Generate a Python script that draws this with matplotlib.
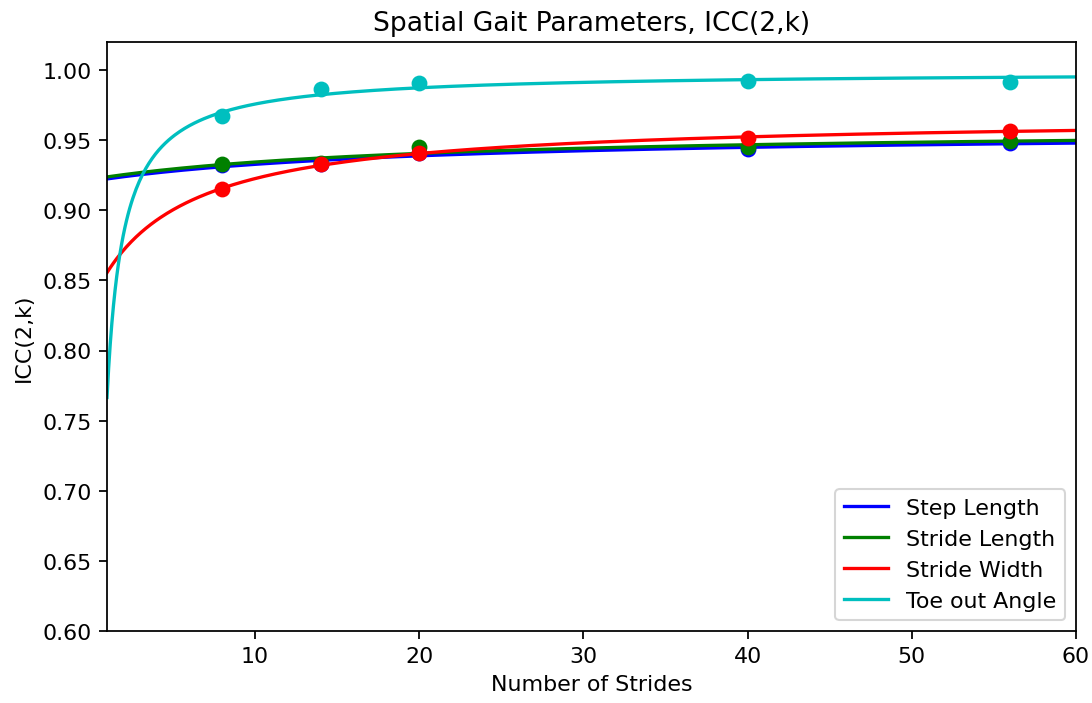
import numpy as np
import matplotlib.pyplot as plt


# =========================
# DADOS
# =========================
strides = np.array([8, 14, 20, 40, 56])

step_length = np.array([0.932, 0.933, 0.941, 0.944, 0.948])
stride_length = np.array([0.933, 0.934, 0.945, 0.945, 0.9497])
stride_width = np.array([0.915, 0.933, 0.941, 0.9516, 0.9563])
toe_out_angle = np.array([0.967, 0.9866, 0.9905, 0.992, 0.9917])

labels = ["Step Length", "Stride Length", "Stride Width", "Toe out Angle"]
cores = ["b", "g", "r", "c"]

# deslocamento b da curva y = L - C / (x + b) de cada série
curva_b = [20, 20, 5, 0]


# =========================
# AJUSTE (mínimos quadrados em L e C)
# =========================
def ajuste(x, y, b):
    g = 1.0 / (x + b)
    A = np.column_stack([np.ones_like(g), -g])
    L, C = np.linalg.lstsq(A, y, rcond=None)[0]
    return lambda xx: L - C / (xx + b)


escala = 1.06
plt.rcParams.update({
    "font.size": 10 * escala,
    "lines.linewidth": 1.5 * escala,
    "axes.linewidth": 0.8 * escala,
    "xtick.major.size": 3.5 * escala,
    "ytick.major.size": 3.5 * escala,
    "xtick.major.width": 0.8 * escala,
    "ytick.major.width": 0.8 * escala,
})

x_fit = np.linspace(1, 60, 600)

fig = plt.figure(figsize=(7.28, 4.693), dpi=150)
ax = fig.add_axes([0.098, 0.1023, 0.8874, 0.8366])

series = [step_length, stride_length, stride_width, toe_out_angle]
for y, lab, cor, b in zip(series, labels, cores, curva_b):
    f = ajuste(strides.astype(float), y, b)
    ax.plot(strides, y, "o", color=cor, markersize=6.6)
    ax.plot(x_fit, f(x_fit), color=cor, label=lab)

ax.set_xlim(1, 60)
ax.set_ylim(0.6, 1.02)
ax.set_xlabel("Number of Strides")
ax.set_ylabel("ICC(2,k)")
ax.set_title("Spatial Gait Parameters, ICC(2,k)")
ax.legend(loc="lower right")

fig.savefig("out.png", dpi=150)
